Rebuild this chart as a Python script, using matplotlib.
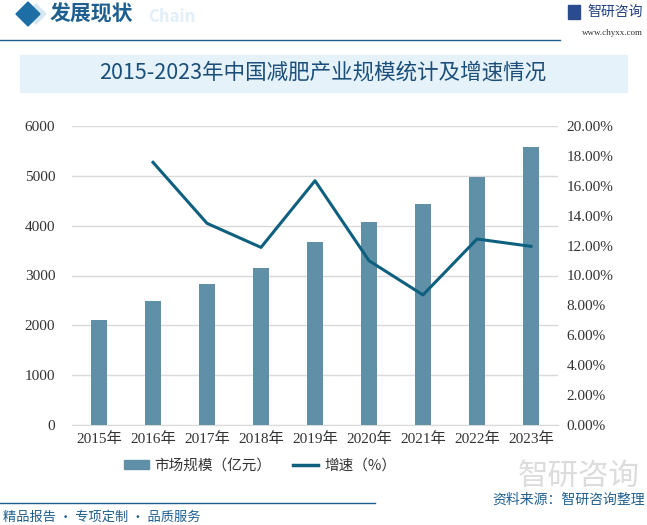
import matplotlib
matplotlib.use("Agg")
import matplotlib.pyplot as plt
from matplotlib.patches import Rectangle, Polygon
from matplotlib.lines import Line2D
from matplotlib.ticker import FuncFormatter

plt.rcParams['font.family'] = ['Noto Sans CJK SC', 'DejaVu Sans']

years = ["2015年", "2016年", "2017年", "2018年", "2019年", "2020年", "2021年", "2022年", "2023年"]
market_size = [2107, 2488, 2829, 3150, 3672, 4073, 4435, 4977, 5579]
growth = [None, 17.57, 13.49, 11.88, 16.34, 10.99, 8.70, 12.44, 11.95]
left_ticks = [0, 1000, 2000, 3000, 4000, 5000, 6000]
right_ticks = [0, 2, 4, 6, 8, 10, 12, 14, 16, 18, 20]

BAR_C = "#5f90a8"
LINE_C = "#0f5f7f"
TITLE_C = "#1b4f7a"
SERIF = ['Liberation Serif', 'Noto Sans CJK SC']

W, H = 647, 525
fig = plt.figure(figsize=(W / 100, H / 100), dpi=100)

def fx(x):
    return x / W

def fy(y):
    return 1 - y / H

# header
fig.patches.append(Polygon([[fx(16), fy(14)], [fx(28), fy(2)], [fx(40), fy(14)], [fx(28), fy(26)]],
                           closed=True, transform=fig.transFigure, color="#1c6ea4", zorder=2))
fig.patches.append(Polygon([[fx(26), fy(14)], [fx(36), fy(4)], [fx(46), fy(14)], [fx(36), fy(24)]],
                           closed=True, transform=fig.transFigure, color="#d6e8f4", zorder=1))
fig.text(fx(50), fy(14), "发展现状", fontsize=15, fontweight="bold", color="#1f5f8f", va="center", ha="left")
fig.text(fx(148), fy(17), "Chain", fontsize=12, fontweight="bold", color="#e2eef8", va="center", ha="left")
fig.add_artist(Line2D([0, fx(560)], [fy(40), fy(40)], transform=fig.transFigure, color="#1f5f8f", lw=1))
fig.text(fx(643), fy(12), "智研咨询", fontsize=10, color="#1f3f7f", ha="right", va="center")
fig.patches.append(Rectangle((fx(568), fy(19)), fx(12), 14 / H, transform=fig.transFigure, color="#2a4b8d"))
fig.text(fx(643), fy(33), "www.chyxx.com", fontsize=6.5, color="#333333", ha="right", va="center",
         family=SERIF)

# title band
fig.patches.append(Rectangle((fx(20), fy(92)), fx(607), 37 / H, transform=fig.transFigure,
                             color="#e6f2fa", zorder=0))
fig.text(fx(323), fy(73), "2015-2023年中国减肥产业规模统计及增速情况", fontsize=15.5, color=TITLE_C,
         ha="center", va="center", fontweight="medium")

# main axes
ax = fig.add_axes([fx(72), fy(425), fx(558) - fx(72), (425 - 126) / H])
x = list(range(len(years)))
ax.bar(x, market_size, width=0.31, color=BAR_C, zorder=3, label="市场规模（亿元）")
ax.set_ylim(0, 6000)
ax.set_xlim(-0.5, len(years) - 0.5)
ax.set_yticks(left_ticks)
ax.set_xticks(x)
ax.set_xticklabels(years)
ax.grid(axis="y", color="#d9d9d9", lw=1, zorder=0)
for s in ["top", "right", "left"]:
    ax.spines[s].set_visible(False)
ax.spines["bottom"].set_color("#d9d9d9")
ax.tick_params(axis="both", length=0, labelsize=11, colors="#333333")
ax.tick_params(axis="x", pad=5)
ax.tick_params(axis="y", pad=12)
for lab in ax.get_xticklabels() + ax.get_yticklabels():
    lab.set_family(SERIF)

ax2 = ax.twinx()
gx = [i for i, g in zip(x, growth) if g is not None]
gy = [g for g in growth if g is not None]
ax2.plot(gx, gy, color=LINE_C, lw=2.2, zorder=4, label="增速（%）")
ax2.set_ylim(0, 20)
ax2.set_yticks(right_ticks)
ax2.yaxis.set_major_formatter(FuncFormatter(lambda v, p: f"{v:.2f}%"))
for s in ["top", "right", "left", "bottom"]:
    ax2.spines[s].set_visible(False)
ax2.tick_params(axis="y", length=0, labelsize=11, colors="#333333", pad=6)
for lab in ax2.get_yticklabels():
    lab.set_family(SERIF)

# legend
handles = [Rectangle((0, 0), 1, 1, color=BAR_C), Line2D([0], [0], color=LINE_C, lw=2.5)]
fig.legend(handles, ["市场规模（亿元）", "增速（%）"], loc="center", bbox_to_anchor=(fx(260), fy(466)),
           ncol=2, frameon=False, fontsize=10.5, handlelength=1.7, handleheight=0.6,
           columnspacing=1.5, handletextpad=0.4, labelcolor="#333333")

# watermark logo
fig.text(fx(640), fy(476), "智研咨询", fontsize=22, color="#dcdcdc", ha="right", va="center", zorder=0)

# footer
fig.add_artist(Line2D([0, fx(375)], [fy(503), fy(503)], transform=fig.transFigure, color="#1f5f8f", lw=1))
fig.text(fx(645), fy(500), "资料来源：智研咨询整理", fontsize=10, color="#1f5f8f", ha="right", va="center")
fig.text(fx(3), fy(517), "精品报告 · 专项定制 · 品质服务", fontsize=9.5, color="#1f5f8f", ha="left", va="center")

fig.savefig("out.png", dpi=100)
